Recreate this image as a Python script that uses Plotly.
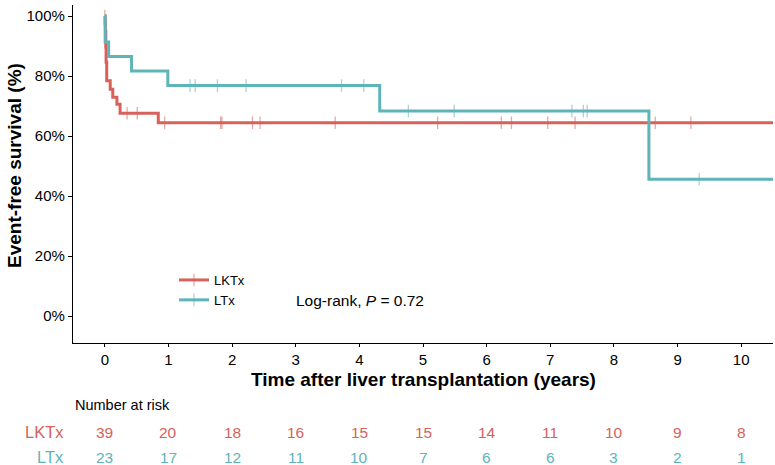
import numpy as np
import plotly.graph_objects as go

# ---- data ----
lktx_time = [0, 0.005, 0.01, 0.015, 0.02, 0.03, 0.085, 0.125, 0.19, 0.24, 0.84, 10.6]
lktx_surv = [100, 97.4, 94.9, 89.7, 84.6, 78.4, 75.6, 72.9, 70.6, 67.6, 64.4, 64.4]
lktx_censor = [0.0, 0.35, 0.51, 0.94, 1.82, 1.84, 2.32, 2.44, 3.62, 5.23, 6.23, 6.39,
               6.96, 7.39, 8.65, 9.21]

ltx_time = [0, 0.005, 0.06, 0.42, 0.99, 4.32, 8.55, 10.6]
ltx_surv = [100, 91.3, 86.5, 81.7, 76.8, 68.3, 45.6, 45.6]
ltx_censor = [1.34, 1.42, 1.77, 2.22, 3.72, 4.07, 4.77, 5.49, 7.34, 7.52, 7.58, 9.34]

risk_times = [0, 1, 2, 3, 4, 5, 6, 7, 8, 9, 10]
lktx_risk = [39, 20, 18, 16, 15, 15, 14, 11, 10, 9, 8]
ltx_risk = [23, 17, 12, 11, 10, 7, 6, 6, 3, 2, 1]

x_ticks = list(range(0, 11))
y_ticks = [0, 20, 40, 60, 80, 100]
y_labels = [f"{v}%" for v in y_ticks]

RED = "#D6625B"
TEAL = "#5FB4B9"
FONT = "Liberation Sans, Arial, sans-serif"


def step_at(times, surv, t):
    idx = np.searchsorted(np.array(times), t, side="right") - 1
    return [surv[i] for i in idx]


fig = go.Figure()

groups = [("LKTx", lktx_time, lktx_surv, lktx_censor, RED),
          ("LTx", ltx_time, ltx_surv, ltx_censor, TEAL)]

for name, t, s, c, col in groups:
    fig.add_trace(go.Scatter(x=t, y=s, mode="lines", line=dict(color=col, width=3, shape="hv"),
                             showlegend=False, hoverinfo="skip"))
    fig.add_trace(go.Scatter(x=c, y=step_at(t, s, c), mode="markers",
                             marker=dict(symbol="line-ns", size=9, opacity=0.55,
                                         line=dict(color=col, width=1.3)),
                             showlegend=False, hoverinfo="skip"))

# legend entries
for name, t, s, c, col in groups:
    fig.add_trace(go.Scatter(x=[None], y=[None], mode="lines+markers", name=name,
                             line=dict(color=col, width=3),
                             marker=dict(symbol="line-ns", size=9, opacity=0.55,
                                         line=dict(color=col, width=1.3))))

H = 465
T, B = 5, 122
ph = H - T - B


def py2paper(py):
    return (H - B - py) / ph


def px2paper(px):
    return (px - 73) / 700


ann = []
ann.append(dict(text="<b>Time after liver transplantation (years)</b>", x=0.5, y=py2paper(379),
                xref="paper", yref="paper", showarrow=False, font=dict(size=19, color="black"),
                xanchor="center", yanchor="middle"))
ann.append(dict(text="<b>Event-free survival (%)</b>", x=px2paper(14), y=py2paper(166),
                xref="paper", yref="paper", showarrow=False, textangle=-90,
                font=dict(size=19, color="black"), xanchor="center", yanchor="middle"))
ann.append(dict(text="Log-rank, <i>P</i> = 0.72", x=px2paper(294), y=py2paper(300),
                xref="paper", yref="paper", showarrow=False, font=dict(size=15.5, color="black"),
                xanchor="left", yanchor="middle"))
ann.append(dict(text="Number at risk", x=0, y=py2paper(405), xref="paper", yref="paper",
                showarrow=False, font=dict(size=14.5, color="black"), xanchor="left", yanchor="middle"))
ann.append(dict(text="LKTx", x=px2paper(66), y=py2paper(432), xref="paper", yref="paper",
                showarrow=False, font=dict(size=16.5, color=RED), xanchor="right", yanchor="middle"))
ann.append(dict(text="LTx", x=px2paper(66), y=py2paper(457), xref="paper", yref="paper",
                showarrow=False, font=dict(size=16.5, color=TEAL), xanchor="right", yanchor="middle"))
for tt, a, b in zip(risk_times, lktx_risk, ltx_risk):
    ann.append(dict(text=str(a), x=tt, y=py2paper(432), xref="x", yref="paper", showarrow=False,
                    font=dict(size=15.5, color=RED), xanchor="center", yanchor="middle"))
    ann.append(dict(text=str(b), x=tt, y=py2paper(457), xref="x", yref="paper", showarrow=False,
                    font=dict(size=15.5, color=TEAL), xanchor="center", yanchor="middle"))

fig.update_layout(
    width=775, height=H,
    margin=dict(l=73, r=2, t=T, b=B, autoexpand=False),
    plot_bgcolor="white", paper_bgcolor="white",
    font=dict(family=FONT, color="black", size=14),
    annotations=ann,
    showlegend=True,
    legend=dict(x=px2paper(174), y=py2paper(265), xanchor="left", yanchor="top",
                font=dict(size=13, color="black"), bgcolor="rgba(0,0,0,0)",
                tracegroupgap=0, itemwidth=30),
    xaxis=dict(range=[-0.5, 10.5], tickvals=x_ticks, showgrid=False, zeroline=False,
               showline=True, linecolor="black", linewidth=1.3, ticks="outside", ticklen=3,
               tickcolor="black", tickfont=dict(size=15, color="black")),
    yaxis=dict(range=[-9, 103.67], tickvals=y_ticks, ticktext=y_labels, showgrid=False,
               zeroline=False, showline=True, linecolor="black", linewidth=1.3,
               ticks="outside", ticklen=4, tickcolor="black",
               tickfont=dict(size=15, color="black")),
)

fig.write_html("out.html", config={"displayModeBar": False},
               post_script="document.body.style.margin='0';document.body.style.overflow='hidden';")
